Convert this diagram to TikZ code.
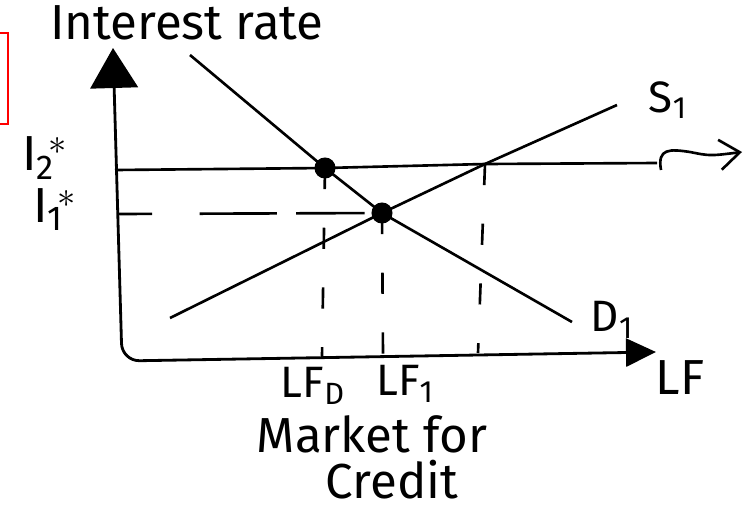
\documentclass[tikz,border=0pt]{standalone}
\usepackage{fontspec}
\setmainfont{Fira Sans}
\usetikzlibrary{arrows.meta, positioning}

\begin{document}
\begin{tikzpicture}[x=0.02cm, y=-0.02cm, font=\fontsize{25}{29}\selectfont]
    \tikzset{
        axisline/.style={line width=1.6pt, rounded corners=10pt,
            {Triangle[length=8mm, width=9.5mm]}-{Triangle[length=6mm, width=5.6mm]}},
        curve/.style={line width=1.5pt},
        rateline/.style={line width=1.5pt},
        guide/.style={line width=1.5pt, dash pattern=on 12pt off 22pt},
        dot/.style={circle, fill=black, inner sep=0pt, minimum size=12pt},
        tag/.style={inner sep=1pt},
        bigtag/.style={inner sep=1pt, font=\fontsize{28}{32}\selectfont}
    }
    \useasboundingbox (0,0) rectangle (743,511);
    \draw[red, line width=1pt] (-5,33) rectangle (8,124);
    % axes
    \coordinate (ytop) at (113,48);
    \coordinate (orig) at (122,361);
    \coordinate (xend) at (656,352);
    \draw[axisline] (ytop) -- (orig) -- (xend);
    % equilibrium points
    \node[dot] (e2) at (325,168) {};
    \node[dot] (e1) at (382,213) {};
    \coordinate (s2) at (485,164);
    % demand and supply
    \coordinate (d0) at (190,55);
    \coordinate (d1) at (572,322);
    \coordinate (s0) at (170,318);
    \coordinate (s1) at (617,105);
    \draw[curve] (d0) -- (e2.center) -- (e1.center) -- (d1);
    \draw[curve] (s0) -- (e1.center) -- (s2) -- (s1);
    % interest rate lines
    \coordinate (i2l) at (115,170);
    \coordinate (i2r) at (657,163);
    \coordinate (hk) at (661,170);
    \coordinate (hkm) at (690,152);
    \coordinate (i2arr) at (742,152);
    \coordinate (i1l) at (117,214);
    \draw[rateline] (i2l) -- (e2.center) -- (s2) -- (i2r);
    \draw[rateline, -{Straight Barb[length=4mm, width=6mm]}]
        (hk) .. controls (657,148) and (670,149) .. (hkm)
        .. controls (710,156) .. (i2arr);
    \draw[rateline, dash pattern=on 20pt off 27pt on 44pt off 11pt on 39pt off 10pt]
        (i1l) -- (e1.center);
    % guides down to the axis
    \coordinate (g2) at (322,356);
    \coordinate (g1) at (383,355);
    \coordinate (g3) at (478,353);
    \draw[guide] (e2.center) -- (g2);
    \draw[guide] (e1.center) -- (g1);
    \draw[guide] (s2) -- (g3);
    % labels
    \node[bigtag] (title) at (187,23) {Interest rate};
    \node[bigtag] (i2lab) at (45,158) {I\textsubscript{2}$^{\!*}$};
    \node[bigtag] (i1lab) at (55,210) {I\textsubscript{1}$^{\!*}$};
    \node[tag] (slab) at (668,100) {S\textsubscript{1}};
    \node[tag] (dlab) at (612,320) {D\textsubscript{1}};
    \node[tag] (lfd) at (313,386) {LF\textsubscript{D}};
    \node[tag] (lf1) at (405,384) {LF\textsubscript{1}};
    \node[bigtag] (lf) at (680,378) {LF};
    \node[bigtag] (mkt) at (372,434) {Market for};
    \node[bigtag] (cred) at (392,480) {Credit};
\end{tikzpicture}
\end{document}
